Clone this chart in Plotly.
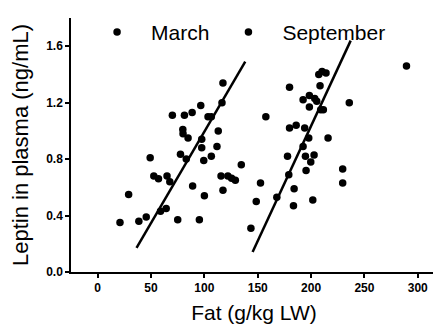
import plotly.graph_objects as go

# March data
march_fat = [20.9, 29, 38.6, 45.5, 49.2, 52.6, 57, 58.9, 64.2, 65, 67.6, 70, 75, 77.6, 79.8, 80,
             81.3, 83, 84.7, 88.5, 89, 95.3, 96.6, 97.5, 97.5, 99.4, 100, 103.4, 106.5, 106.5,
             111.8, 113, 115.6, 116.5, 117.4, 117.4, 122, 125.5, 129, 134.6]
march_leptin = [0.35, 0.55, 0.36, 0.39, 0.81, 0.68, 0.66, 0.43, 0.45, 0.68, 0.64, 1.11, 0.37, 0.835,
                1.01, 0.98, 1.11, 0.80, 0.95, 1.13, 0.61, 0.37, 1.18, 0.94, 0.88, 0.79, 0.54, 1.10,
                1.10, 0.82, 0.89, 1.00, 0.68, 1.20, 1.34, 0.58, 0.68, 0.665, 0.65, 0.76]

# September data
sept_fat = [143.6, 148.6, 152.6, 157.6, 167.9, 177.9, 179.1, 179.8, 179.8, 184.1, 183.5, 186,
            192.5, 192.5, 194, 194.7, 195.3, 197.8, 198.4, 198.4, 199.7, 201.6, 202.8, 203.4,
            205.3, 207.2, 208.4, 209, 210.3, 211.5, 214, 215.9, 229.6, 229.6, 235.8, 289.4]
sept_leptin = [0.31, 0.50, 0.63, 1.10, 0.53, 0.82, 0.69, 1.31, 1.02, 0.59, 0.47, 1.04,
               1.22, 0.89, 1.02, 0.82, 0.72, 0.95, 1.25, 1.17, 0.78, 0.51, 0.83, 1.23,
               1.21, 1.40, 1.32, 1.15, 1.42, 1.15, 1.41, 0.95, 0.73, 0.63, 1.20, 1.46]

# Regression lines: slope, intercept, x extent
march_fit = {"slope": 0.01295, "intercept": -0.30, "x": [36.4, 138.3]}
sept_fit = {"slope": 0.0163, "intercept": -2.225, "x": [145.2, 237.1]}

x_ticks = [0, 50, 100, 150, 200, 250, 300]
y_ticks = [0.0, 0.4, 0.8, 1.2, 1.6]
y_tick_text = ["0.0", "0.4", "0.8", "1.2", "1.6"]

fig = go.Figure()
fig.add_trace(go.Scatter(x=march_fat, y=march_leptin, mode="markers", name="March",
                         marker=dict(color="black", size=7.5)))
fig.add_trace(go.Scatter(x=sept_fat, y=sept_leptin, mode="markers", name="September",
                         marker=dict(color="black", size=7.5)))
for fit in (march_fit, sept_fit):
    ys = [fit["slope"] * x + fit["intercept"] for x in fit["x"]]
    fig.add_trace(go.Scatter(x=fit["x"], y=ys, mode="lines", showlegend=False,
                             line=dict(color="black", width=2.5)))

axis_common = dict(showline=True, linecolor="black", linewidth=1.5, ticks="outside",
                   ticklen=4, tickwidth=1.5, tickcolor="black", showgrid=False, zeroline=False,
                   automargin=False,
                   tickfont=dict(family="Liberation Sans", size=12, color="black", weight="bold"))
fig.update_xaxes(range=[-25, 318], tickvals=x_ticks,
                 title=dict(text="Fat (g/kg LW)", font=dict(family="Liberation Sans", size=21, color="black"),
                            standoff=12),
                 **axis_common)
fig.update_yaxes(range=[0, 1.8], tickvals=y_ticks, ticktext=y_tick_text,
                 title=dict(text="Leptin in plasma (ng/mL)", font=dict(family="Liberation Sans", size=22, color="black"),
                            standoff=13),
                 **axis_common)
# page body has an 8px default margin, so the figure is sized/offset to compensate
fig.update_layout(
    width=433, height=316,
    margin=dict(l=63, r=4, t=7, b=52),
    plot_bgcolor="white", paper_bgcolor="white",
    legend=dict(orientation="h", x=0.033, y=1.024, xanchor="left", yanchor="top",
                font=dict(family="Liberation Sans", size=21, color="black"),
                bgcolor="rgba(0,0,0,0)", itemwidth=58),
    font=dict(family="Liberation Sans", color="black"),
)
fig.write_html("out.html")
